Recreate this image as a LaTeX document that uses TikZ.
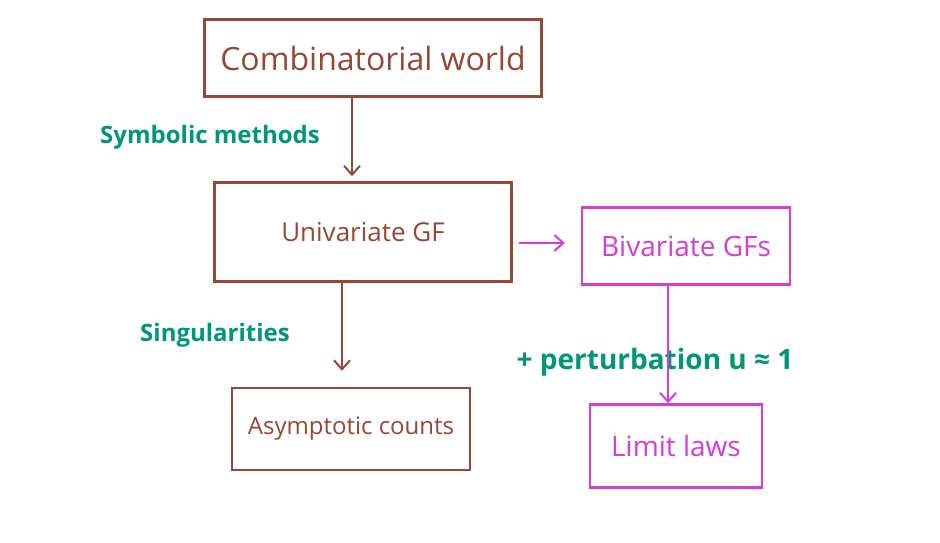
\documentclass[tikz,border=0pt]{standalone}
\usepackage{fontspec}
\setmainfont{Open Sans}
\usetikzlibrary{arrows.meta}
\definecolor{brn}{RGB}{150,72,55}
\definecolor{mag}{RGB}{215,60,215}
\definecolor{tea}{RGB}{0,150,120}
\tikzset{
  bbox/.style={draw=brn, line width=2.4pt, text=brn, inner sep=0pt, minimum width=#1},
  mbox/.style={draw=mag, line width=2.4pt, text=mag, inner sep=0pt, minimum width=#1},
  barrow/.style={draw=brn, line width=2pt, -{Straight Barb[length=9pt,width=16pt]}},
  marrow/.style={draw=mag, line width=2pt, -{Straight Barb[length=9pt,width=16pt]}},
  lbl/.style={text=tea, font=\bfseries}
}
\begin{document}
\begin{tikzpicture}[x=1pt,y=-1pt]
\useasboundingbox[fill=white] (0,0) rectangle (940,542);
\node[bbox=337pt, minimum height=77pt, font=\fontsize{32}{34}\selectfont] (comb) at (373,58) {Combinatorial world};
\node[bbox=297pt, minimum height=99pt, font=\fontsize{26}{28}\selectfont] (uni) at (363,232) {Univariate GF};
\node[mbox=208pt, minimum height=77pt, font=\fontsize{28}{30}\selectfont] (biv) at (686,246) {Bivariate GFs};
\node[bbox=238pt, minimum height=82pt, font=\fontsize{24}{26}\selectfont] (asy) at (351,429) {Asymptotic counts};
\node[mbox=172pt, minimum height=83pt, font=\fontsize{28}{30}\selectfont] (lim) at (676,446) {Limit laws};
\node[lbl, font=\fontsize{24}{26}\selectfont\bfseries] (sym) at (210,137) {Symbolic methods};
\node[lbl, font=\fontsize{24}{26}\selectfont\bfseries] (sing) at (215,335) {Singularities};
\node[lbl, font=\fontsize{28}{30}\selectfont\bfseries] (pert) at (655,362) {+ perturbation u ≈ 1};
\draw[barrow] (comb.south -| 352,0) -- ([yshift=5pt]uni.north -| 352,0);
\draw[barrow] (uni.south -| 342,0) -- ([yshift=16pt]asy.north -| 342,0);
\draw[marrow] ([xshift=6pt]uni.east |- 0,243) -- ([xshift=-16pt]biv.west |- 0,243);
\draw[marrow] (biv.south -| 668,0) -- (lim.north -| 668,0);
\end{tikzpicture}
\end{document}
